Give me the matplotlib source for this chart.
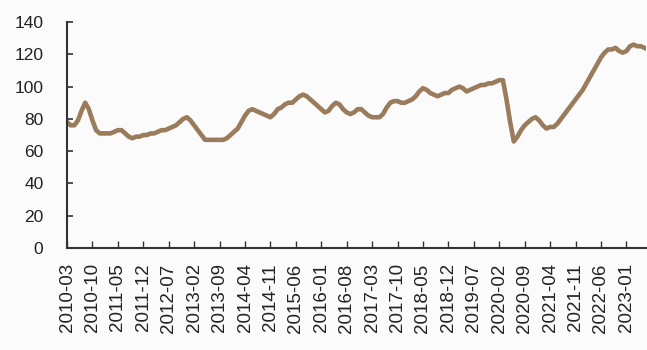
import matplotlib
matplotlib.use("Agg")
import matplotlib.pyplot as plt
import numpy as np
import pandas as pd

# Monthly index, March 2010 through June 2023
months = pd.period_range("2010-03", "2023-06", freq="M").strftime("%Y-%m").tolist()

values = [
    78, 76, 76, 79, 85, 90, 86, 79, 73, 71,
    71, 71, 71, 72, 73, 73, 71, 69, 68, 69,
    69, 70, 70, 71, 71, 72, 73, 73, 74, 75,
    76, 78, 80, 81, 79, 76, 73, 70, 67, 67,
    67, 67, 67, 67, 68, 70, 72, 74, 78, 82,
    85, 86, 85, 84, 83, 82, 81, 83, 86, 87,
    89, 90, 90, 92, 94, 95, 94, 92, 90, 88,
    86, 84, 85, 88, 90, 89, 86, 84, 83, 84,
    86, 86, 84, 82, 81, 81, 81, 83, 87, 90,
    91, 91, 90, 90, 91, 92, 94, 97, 99, 98,
    96, 95, 94, 95, 96, 96, 98, 99, 100, 99,
    97, 98, 99, 100, 101, 101, 102, 102, 103, 104,
    104, 92, 78, 66, 69, 73, 76, 78, 80, 81,
    79, 76, 74, 75, 75, 77, 80, 83, 86, 89,
    92, 95, 98, 102, 106, 110, 114, 118, 121, 123,
    123, 124, 122, 121, 122, 125, 126, 125, 125, 124,
]

tick_step = 7
y_ticks = [0, 20, 40, 60, 80, 100, 120, 140]

bg = "#fbfbfb"
fig = plt.figure(figsize=(6.47, 3.5), dpi=100, facecolor=bg)
ax = fig.add_axes([0.1036, 0.2914, 0.8954, 0.6457], facecolor=bg)

x = np.arange(len(values))
ax.plot(x, values, color="#9a7b5c", linewidth=3.3, solid_joinstyle="round")

ax.set_xlim(0, len(values) - 0.5)
ax.set_ylim(0, 140)

ax.set_yticks(y_ticks)
ax.set_yticklabels([str(v) for v in y_ticks], fontsize=12.5,
                   family=["Liberation Sans", "DejaVu Sans"], color="#222222")

tick_pos = x[::tick_step]
ax.set_xticks(tick_pos)
ax.set_xticklabels([months[i] for i in tick_pos], rotation=90, fontsize=13.5,
                   family=["Liberation Sans", "DejaVu Sans"], color="#222222",
                   va="top", ha="center")

ax.tick_params(axis="y", direction="in", length=4, width=1.2, pad=17, colors="#333333")
ax.tick_params(axis="x", direction="in", length=5, width=1.0, pad=11, colors="#333333")
for lbl in ax.get_xticklabels() + ax.get_yticklabels():
    lbl.set_color("#222222")

for side in ("top", "right"):
    ax.spines[side].set_visible(False)
for side in ("left", "bottom"):
    ax.spines[side].set_color("#333333")
    ax.spines[side].set_linewidth(1.5)

fig.savefig("out.png", dpi=100, facecolor=bg)
